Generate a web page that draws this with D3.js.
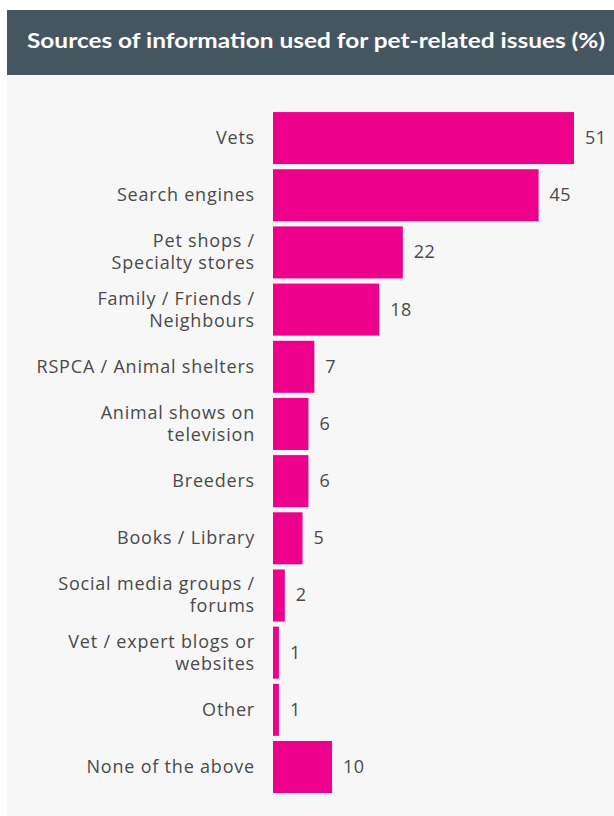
<!DOCTYPE html>
<html>
<head>
<meta charset="utf-8">
<script src="https://cdn.jsdelivr.net/npm/d3@7"></script>
<style>
  body { margin: 0; background: #fff; }
  svg { display: block; font-family: "Open Sans", Lato, sans-serif; }
</style>
</head>
<body>
<svg id="chart" width="614" height="816"></svg>
<script>
var categories = [
  ["Vets"],
  ["Search engines"],
  ["Pet shops /", "Specialty stores"],
  ["Family / Friends /", "Neighbours"],
  ["RSPCA / Animal shelters"],
  ["Animal shows on", "television"],
  ["Breeders"],
  ["Books / Library"],
  ["Social media groups /", "forums"],
  ["Vet / expert blogs or", "websites"],
  ["Other"],
  ["None of the above"]
];
var values = [51, 45, 22, 18, 7, 6, 6, 5, 2, 1, 1, 10];
var title = "Sources of information used for pet-related issues (%)";

var svg = d3.select("#chart");

// header + panel
svg.append("rect").attr("x", 7).attr("y", 10).attr("width", 607).attr("height", 65).attr("fill", "#465661");
svg.append("rect").attr("x", 7).attr("y", 75).attr("width", 607).attr("height", 741).attr("fill", "#f7f7f7");

svg.append("text")
  .attr("x", 27).attr("y", 48)
  .attr("fill", "#fff")
  .attr("font-weight", "bold")
  .attr("font-size", "21px")
  .attr("font-family", "Lato, sans-serif")
  .attr("textLength", 578)
  .attr("lengthAdjust", "spacingAndGlyphs")
  .text(title);

var idx = d3.range(values.length);

var x = d3.scaleLinear()
  .domain([0, d3.max(values)])
  .range([273, 574]);

var y = d3.scaleBand()
  .domain(idx)
  .range([109.5, 795.6])
  .paddingInner(0.09)
  .paddingOuter(0.045);

svg.selectAll(".bar")
  .data(idx)
  .enter()
  .append("rect")
    .attr("class", "bar")
    .attr("x", x(0))
    .attr("y", function(i) { return y(i); })
    .attr("width", function(i) { return x(values[i]) - x(0); })
    .attr("height", y.bandwidth())
    .attr("fill", "#ec008c");

svg.selectAll(".val")
  .data(idx)
  .enter()
  .append("text")
    .attr("class", "val")
    .attr("x", function(i) { return x(values[i]) + 11; })
    .attr("y", function(i) { return y(i) + y.bandwidth() / 2 + 6; })
    .attr("fill", "#4a4a4a")
    .attr("font-size", "18px")
    .attr("letter-spacing", "0.5px")
    .text(function(i) { return values[i]; });

var labels = svg.selectAll(".lab")
  .data(idx)
  .enter()
  .append("text")
    .attr("class", "lab")
    .attr("text-anchor", "end")
    .attr("fill", "#4a4a4a")
    .attr("font-size", "18px")
    .attr("letter-spacing", "0.8px");

labels.each(function(i) {
  var lines = categories[i];
  var cy = y(i) + y.bandwidth() / 2 + 6;
  var start = cy - (lines.length - 1) * 11;
  d3.select(this).selectAll("tspan")
    .data(lines)
    .enter()
    .append("tspan")
      .attr("x", 255)
      .attr("y", function(d, j) { return start + j * 22; })
      .text(function(d) { return d; });
});
</script>
</body>
</html>
